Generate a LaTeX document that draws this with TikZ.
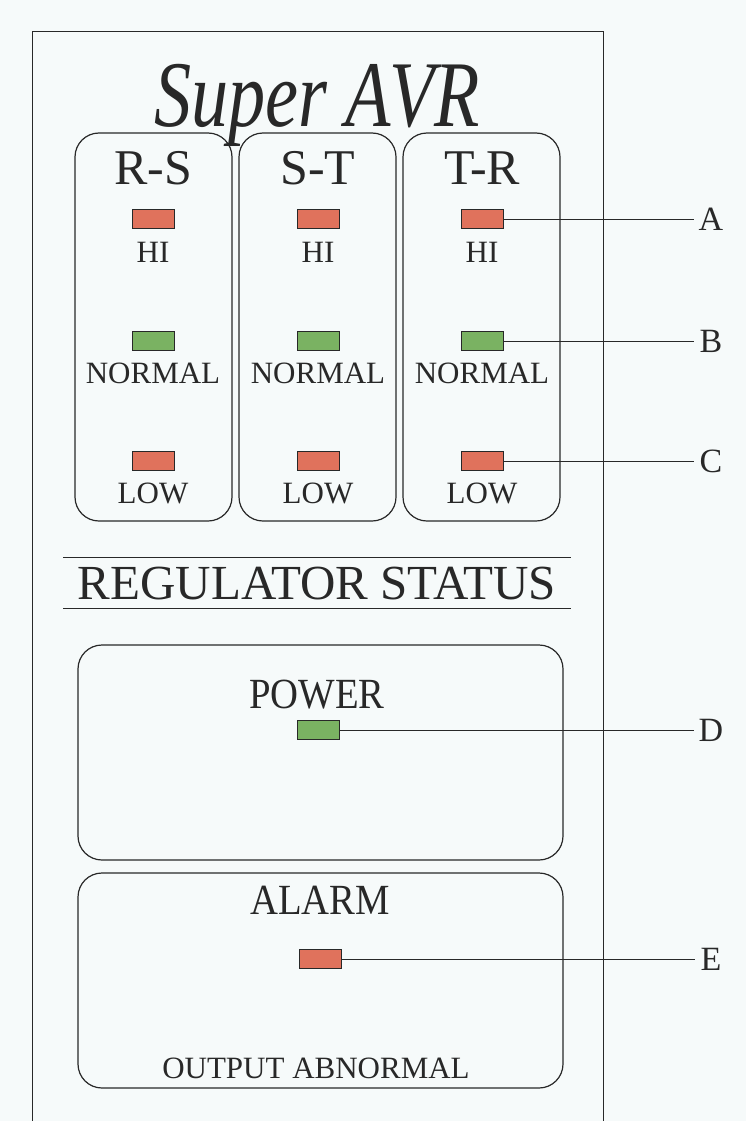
\documentclass[tikz,border=0pt]{standalone}
\usepackage{fontspec}
\setmainfont{Liberation Serif}
\newfontfamily\titlefont[FakeStretch=0.79]{Liberation Serif}
\newfontfamily\midfont[FakeStretch=0.9]{Liberation Serif}
\definecolor{paper}{RGB}{246,250,250}
\definecolor{ink}{RGB}{40,40,40}
\definecolor{ledred}{RGB}{224,114,92}
\definecolor{ledgreen}{RGB}{122,178,98}
\tikzset{
  panel/.style={draw=ink, line width=1.2pt, rounded corners=24pt, inner sep=0pt},
  led/.style={draw=ink, line width=0.8pt, minimum width=42pt, minimum height=19pt, inner sep=0pt},
  redled/.style={led, fill=ledred},
  greenled/.style={led, fill=ledgreen},
  head/.style={text=ink, font=\fontsize{50}{50}\selectfont, anchor=base, inner sep=0pt},
  small/.style={text=ink, font=\fontsize{31}{31}\selectfont, anchor=base, inner sep=0pt},
  big/.style={text=ink, font=\midfont\fontsize{43}{43}\selectfont, anchor=base, inner sep=0pt},
  letter/.style={text=ink, font=\fontsize{34}{34}\selectfont, inner sep=5pt},
  leader/.style={draw=ink, line width=0.8pt},
  frame/.style={draw=ink, line width=1pt}
}
\begin{document}
\begin{tikzpicture}[x=1pt,y=-1pt]
\fill[paper] (0,0) rectangle (746,1121);
\useasboundingbox (0,0) rectangle (746,1121);
% outer frame
\draw[frame] (32,1121) -- (32,32) -- (603,32) -- (603,1121);
% title
\node[text=ink, font=\titlefont\itshape\fontsize{94}{94}\selectfont, anchor=base, inner sep=0pt] (title) at (317,127) {Super A\kern-2pt VR};
% phase panels
\node[panel, minimum width=157pt, minimum height=388pt] (prs) at (153.5,327) {};
\node[panel, minimum width=157pt, minimum height=388pt] (pst) at (317.5,327) {};
\node[panel, minimum width=157pt, minimum height=388pt] (ptr) at (481.5,327) {};
\node[head] (hrs) at (153,184) {R-S};
\node[head] (hst) at (318,184) {S-T};
\node[head] (htr) at (482,184) {T-R};
% LEDs
\node[redled] (hiRS) at (153,219) {};
\node[redled] (hiST) at (318,219) {};
\node[redled] (hiTR) at (482,219) {};
\node[greenled] (noRS) at (153,341) {};
\node[greenled] (noST) at (318,341) {};
\node[greenled] (noTR) at (482,341) {};
\node[redled] (loRS) at (153,461) {};
\node[redled] (loST) at (318,461) {};
\node[redled] (loTR) at (482,461) {};
% LED labels
\node[small] (thiRS) at (153,262) {HI};
\node[small] (thiST) at (318,262) {HI};
\node[small] (thiTR) at (482,262) {HI};
\node[small] (tnoRS) at (153,383) {NORMAL};
\node[small] (tnoST) at (318,383) {NORMAL};
\node[small] (tnoTR) at (482,383) {NORMAL};
\node[small] (tloRS) at (153,503) {LOW};
\node[small] (tloST) at (318,503) {LOW};
\node[small] (tloTR) at (482,503) {LOW};
% regulator status
\coordinate (r1a) at (63,557); \coordinate (r1b) at (571,557);
\coordinate (r2a) at (63,608); \coordinate (r2b) at (571,608);
\draw[frame] (r1a) -- (r1b);
\draw[frame] (r2a) -- (r2b);
\node[text=ink, font=\fontsize{49}{49}\selectfont, anchor=base, inner sep=0pt] (reg) at (317,599) {REGULATOR STATUS};
% power panel
\node[panel, minimum width=485pt, minimum height=215pt] (ppow) at (320.5,752.5) {};
\node[big] (tpow) at (317,708) {POWER};
\node[greenled] (power) at (318,730) {};
% alarm panel
\node[panel, minimum width=485pt, minimum height=215pt] (palm) at (320.5,980.5) {};
\node[big] (talm) at (320,914) {ALARM};
\node[redled] (alarm) at (320,959) {};
\node[small] (tout) at (316,1078) {OUTPUT ABNORMAL};
% callout letters
\node[letter] (lA) at (711,219) {A};
\node[letter] (lB) at (711,341) {B};
\node[letter] (lC) at (711,461) {C};
\node[letter] (lD) at (711,730) {D};
\node[letter] (lE) at (711,959) {E};
\draw[leader] (hiTR.east) -- (lA.west);
\draw[leader] (noTR.east) -- (lB.west);
\draw[leader] (loTR.east) -- (lC.west);
\draw[leader] (power.east) -- (lD.west);
\draw[leader] (alarm.east) -- (lE.west);
\end{tikzpicture}
\end{document}
